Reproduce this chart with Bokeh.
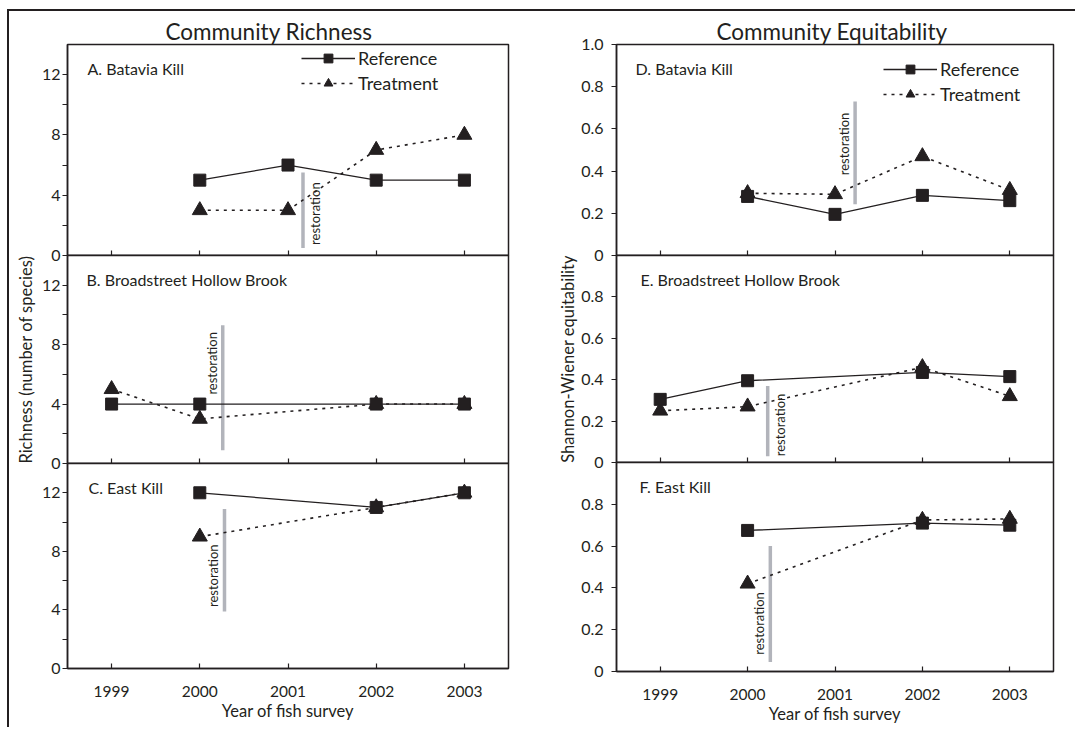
import math
from bokeh.plotting import figure
from bokeh.models import (Range1d, FixedTicker, CustomJSTickFormatter, Legend,
                          LegendItem, ColumnDataSource, Label)
from bokeh.layouts import column, row
from bokeh.embed import file_html
from bokeh.resources import INLINE
from bokeh.core.properties import value

# ---------------- data ----------------
year_ticks = [1999, 2000, 2001, 2002, 2003]

a_years = [2000, 2001, 2002, 2003]
a_reference = [5, 6, 5, 5]
a_treatment = [3, 3, 7, 8]

b_years = [1999, 2000, 2002, 2003]
b_reference = [4, 4, 4, 4]
b_treatment = [5, 3, 4, 4]

c_years = [2000, 2002, 2003]
c_reference = [12, 11, 12]
c_treatment = [9, 11, 12]

d_years = [2000, 2001, 2002, 2003]
d_reference = [0.28, 0.195, 0.285, 0.26]
d_treatment = [0.295, 0.29, 0.47, 0.31]

e_years = [1999, 2000, 2002, 2003]
e_reference = [0.305, 0.395, 0.435, 0.415]
e_treatment = [0.25, 0.27, 0.46, 0.32]

f_years = [2000, 2002, 2003]
f_reference = [0.675, 0.71, 0.70]
f_treatment = [0.42, 0.725, 0.73]

panel_labels = ["A. Batavia Kill", "B. Broadstreet Hollow Brook", "C. East Kill",
                "D. Batavia Kill", "E. Broadstreet Hollow Brook", "F. East Kill"]
column_titles = ["Community Richness", "Community Equitability"]
series_names = ["Reference", "Treatment"]

richness_major = [0, 4, 8, 12]
richness_minor = [2, 6, 10]
equit_ticks_top = [0, 0.2, 0.4, 0.6, 0.8, 1.0]
equit_ticks = [0, 0.2, 0.4, 0.6, 0.8]

# restoration markers (year, low, high, text anchor)
restoration_year = [2001.17, 2000.26, 2000.28, 2001.23, 2000.23, 2000.26]
restoration_low = [0.5, 0.9, 3.9, 0.243, 0.03, 0.045]
restoration_high = [5.5, 9.3, 10.9, 0.73, 0.37, 0.60]
restoration_text_y = [0.7, 8.85, 4.2, 0.677, 0.03, 0.08]

# ---------------- style ----------------
FONT = "Lato"
INK = "#231f20"
GREY = "#b2b4bb"

EQ_FMT = "return (Math.abs(tick) < 1e-9) ? '0' : tick.toFixed(1);"


def make_panel(idx, years, ref, trt, width, height, bl, br, bt, bb, yend, ymajor,
               yminor, fmt=None, bottom=False, ylabel=None, title=None, title_offset=0,
               overlap=False, text_side="right", text_align="left",
               label_x=20, legend_loc=None, ytick_standoff=4, ylabel_standoff=4):
    frame_h = height - bt - bb
    p = figure(width=width, height=height, x_range=Range1d(1998.5, 2003.5),
               y_range=Range1d(0, yend), output_backend="svg", toolbar_location=None,
               min_border_left=bl, min_border_right=br, min_border_top=bt,
               min_border_bottom=bb, title=title)
    if overlap:
        p.margin = (-20, 0, 0, 0)
        p.border_fill_alpha = 0
    if title is not None:
        p.title.align = "left"
        p.title.offset = title_offset
        p.title.text_font = FONT
        p.title.text_font_size = "22.5px"
        p.title.text_font_style = "normal"
        p.title.text_color = INK
        p.title.standoff = 0
    p.grid.visible = False
    p.outline_line_color = INK
    p.outline_line_width = 1.5
    p.background_fill_color = "white"

    # x axis
    xa = p.xaxis[0]
    xa.axis_line_color = INK
    xa.axis_line_width = 1.5
    if bottom:
        xa.ticker = FixedTicker(ticks=year_ticks)
        xa.major_tick_in = 5
        xa.major_tick_out = 0
        xa.major_tick_line_color = INK
        xa.major_tick_line_width = 1.2
        xa.minor_tick_line_color = None
        xa.major_label_text_font = FONT
        xa.major_label_text_font_size = "15.5px"
        xa.major_label_text_color = INK
        xa.major_label_standoff = 17
        xa.axis_label = "Year of fish survey"
        xa.axis_label_text_font = FONT
        xa.axis_label_text_font_size = "16.5px"
        xa.axis_label_text_font_style = "normal"
        xa.axis_label_text_color = INK
        xa.axis_label_standoff = 1
    else:
        xa.ticker = FixedTicker(ticks=[], minor_ticks=year_ticks)
        xa.minor_tick_in = 5
        xa.minor_tick_out = 0
        xa.minor_tick_line_color = INK
        xa.minor_tick_line_width = 1.2
        xa.major_label_standoff = 0

    # y axis
    ya = p.yaxis[0]
    ya.ticker = FixedTicker(ticks=ymajor, minor_ticks=yminor)
    if fmt is not None:
        ya.formatter = CustomJSTickFormatter(code=fmt)
    ya.major_tick_in = 0
    ya.major_tick_out = 5
    ya.minor_tick_in = 0
    ya.minor_tick_out = 5
    ya.minor_tick_line_color = INK
    ya.minor_tick_line_width = 1.2
    ya.axis_line_color = INK
    ya.axis_line_width = 1.5
    ya.major_tick_line_color = INK
    ya.major_tick_line_width = 1.2
    ya.major_label_text_font = FONT
    ya.major_label_text_font_size = "16px"
    ya.major_label_text_color = INK
    ya.major_label_standoff = ytick_standoff
    if ylabel:
        ya.axis_label = ylabel
        ya.axis_label_text_font = FONT
        ya.axis_label_text_font_size = "16.5px"
        ya.axis_label_text_font_style = "normal"
        ya.axis_label_text_color = INK
        ya.axis_label_standoff = ylabel_standoff

    # restoration bar + text
    src_r = ColumnDataSource(dict(x=[restoration_year[idx]], y0=[restoration_low[idx]],
                                  y1=[restoration_high[idx]], ty=[restoration_text_y[idx]],
                                  t=["restoration"]))
    p.segment(x0="x", y0="y0", x1="x", y1="y1", source=src_r, line_color=GREY,
              line_width=3.5)
    if text_side == "right":
        baseline, xoff = "top", 4
    else:
        baseline, xoff = "bottom", -3
    p.text(x="x", y="ty", text="t", source=src_r, angle=math.pi / 2,
           text_align=text_align, text_baseline=baseline, x_offset=xoff,
           text_font=value(FONT), text_font_size="13px", text_color=INK)

    # series (treatment beneath reference)
    src = ColumnDataSource(dict(x=years, ref=ref, trt=trt))
    l_t = p.line("x", "trt", source=src, line_color=INK, line_width=1.6,
                 line_dash="3 5")
    m_t = p.scatter("x", "trt", source=src, marker="triangle", size=15,
                    fill_color=INK, line_color=INK)
    l_r = p.line("x", "ref", source=src, line_color=INK, line_width=1.3)
    m_r = p.scatter("x", "ref", source=src, marker="square", size=12,
                    fill_color=INK, line_color=INK)

    # panel label
    p.add_layout(Label(x=label_x, y=frame_h - 23.5, x_units="screen",
                       y_units="screen", text=panel_labels[idx], text_font=FONT,
                       text_font_size="16px", text_color=INK,
                       text_baseline="alphabetic"))

    if legend_loc is not None:
        leg = Legend(items=[LegendItem(label=series_names[0], renderers=[l_r, m_r]),
                            LegendItem(label=series_names[1], renderers=[l_t, m_t])],
                     location=legend_loc, padding=0, margin=0, spacing=3,
                     glyph_width=54, glyph_height=22, label_height=22,
                     label_standoff=3, label_text_font=FONT,
                     label_text_font_size="18px", label_text_color=INK,
                     background_fill_alpha=0, border_line_alpha=0)
        p.add_layout(leg)
    return p


# left column geometry
LW, LBL, LBR = 523, 58, 24
# right column geometry
RW, RBL, RBR = 543, 84, 22
TOP = 33
BOT = 56

pA = make_panel(0, a_years, a_reference, a_treatment, LW, TOP + 211 + 10, LBL, LBR, TOP, 10,
                14, richness_major, richness_minor, title=column_titles[0],
                title_offset=98, text_side="right", text_align="left", label_x=20,
                legend_loc=(234, 161), ytick_standoff=2)
pB = make_panel(1, b_years, b_reference, b_treatment, LW, 10 + 208 + 10, LBL, LBR, 10, 10,
                14, richness_major, richness_minor, ylabel="Richness (number of species)",
                overlap=True, text_side="left", text_align="right", label_x=19,
                ytick_standoff=2, ylabel_standoff=3)
pC = make_panel(2, c_years, c_reference, c_treatment, LW, 10 + 205 + BOT, LBL, LBR, 10, BOT,
                14, richness_major, richness_minor, bottom=True, overlap=True,
                text_side="left", text_align="left", label_x=21, ytick_standoff=2)

pD = make_panel(3, d_years, d_reference, d_treatment, RW, TOP + 211 + 10, RBL, RBR, TOP, 10,
                1.0, equit_ticks_top, [], fmt=EQ_FMT, title=column_titles[1],
                title_offset=100, text_side="left", text_align="right", label_x=19,
                legend_loc=(267, 150), ytick_standoff=8)
pE = make_panel(4, e_years, e_reference, e_treatment, RW, 10 + 207 + 10, RBL, RBR, 10, 10,
                1.0, equit_ticks, [], fmt=EQ_FMT, ylabel="Shannon-Wiener equitability",
                overlap=True, text_side="right", text_align="left", label_x=24,
                ytick_standoff=8, ylabel_standoff=0)
pF = make_panel(5, f_years, f_reference, f_treatment, RW, 10 + 209 + BOT, RBL, RBR, 10, BOT,
                1.0, equit_ticks, [], fmt=EQ_FMT, bottom=True, overlap=True,
                text_side="left", text_align="left", label_x=23, ytick_standoff=8)

left = column(pA, pB, pC, spacing=0)
right = column(pD, pE, pF, spacing=0)
layout = row(left, right, spacing=0, margin=(9, 0, 0, 7),
             styles={"border-left": "2px solid #231f20",
                     "border-top": "2px solid #231f20"})

open("out.html", "w").write(file_html(layout, INLINE))
